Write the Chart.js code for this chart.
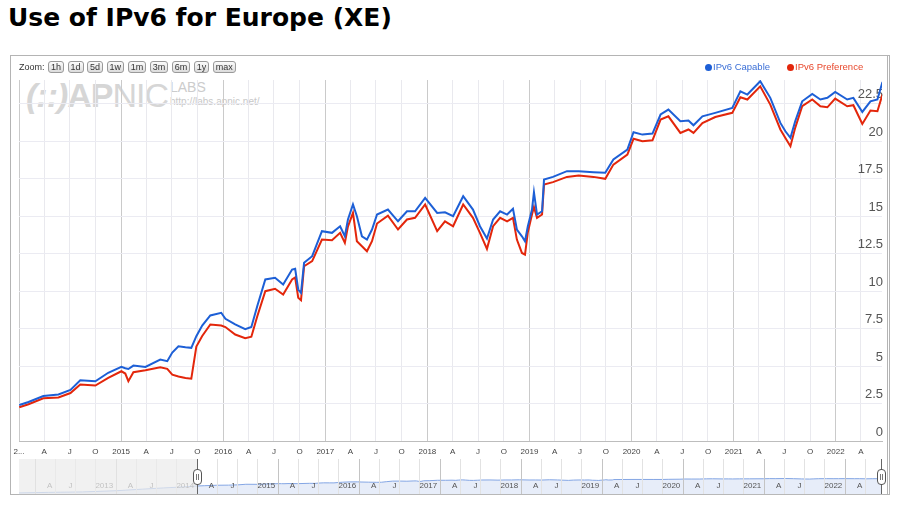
<!DOCTYPE html>
<html>
<head>
<meta charset="utf-8">
<title>Use of IPv6 for Europe (XE)</title>
<script src="https://cdn.jsdelivr.net/npm/chart.js@4.4.1/dist/chart.umd.min.js"></script>
<style>
    html, body { margin: 0; padding: 0; background: #fff; width: 900px; height: 505px; overflow: hidden; }
    body { position: relative; font-family: "Liberation Sans", Arial, sans-serif; }
    #title { position: absolute; left: 8px; top: 3px; margin: 0; font: bold 25px "DejaVu Sans", sans-serif; color: #000; white-space: nowrap; }
    #frame { position: absolute; left: 10px; top: 55px; width: 876px; height: 438px; border: 1px solid #b4b4b4; border-right: 3px double #b4b4b4; }
    #watermark { position: absolute; left: 26px; top: 76px; color: #d6d6d6; white-space: nowrap; }
    #watermark .logo { font: 34px "Liberation Sans", Arial, sans-serif; letter-spacing: -1px; }
    #watermark .logo i { font-style: italic; font-weight: bold; }
    #watermark .labs { position: absolute; left: 144px; top: 3px; font: 14px "Liberation Sans", Arial, sans-serif; color: #cccccc; }
    #watermark .url { position: absolute; left: 144px; top: 20px; font: 10px "Liberation Sans", Arial, sans-serif; color: #c8c8c8; }
    canvas { position: absolute; left: 0; top: 0; }
    #zoombar { position: absolute; left: 19px; top: 61px; font: 9px "Liberation Sans", Arial, sans-serif; color: #333; white-space: nowrap; word-spacing: 1px; }
    #zoombar span.b { display: inline-block; border: 1px solid #9a9a9a; border-radius: 3px; padding: 0 2px; line-height: 10px; background: linear-gradient(#fbfbfb, #dcdcdc); color: #333; word-spacing: 0; }
    #legend { position: absolute; left: 705px; top: 61px; font: 9.5px "Liberation Sans", Arial, sans-serif; white-space: nowrap; }
    #legend span.dot { display: inline-block; width: 7px; height: 7px; border-radius: 50%; vertical-align: -1px; margin-right: 1px; }
    #legend span.gap { display: inline-block; width: 17px; }
    .handle-line { position: absolute; top: 459px; width: 1px; height: 35px; background: #666; }
    .handle { position: absolute; top: 469px; width: 7px; height: 14px; border: 1px solid #555; border-radius: 4px; background: #fff; }
    .handle:after { content: ""; position: absolute; left: 2px; top: 4px; width: 1px; height: 6px; border-left: 1px solid #777; border-right: 1px solid #777; }
</style>
</head>
<body>
<h1 id="title">Use of IPv6 for Europe (XE)</h1>
<div id="frame"></div>
<div id="watermark">
    <span class="logo"><i>(::)</i><b>AP</b>NIC</span>
    <span class="labs">LABS</span>
    <span class="url">http://labs.apnic.net/</span>
</div>
<canvas id="mainChart" width="900" height="460"></canvas>
<canvas id="navChart" width="900" height="505"></canvas>
<div id="zoombar">Zoom: <span class="b">1h</span> <span class="b">1d</span> <span class="b">5d</span> <span class="b">1w</span> <span class="b">1m</span> <span class="b">3m</span> <span class="b">6m</span> <span class="b">1y</span> <span class="b">max</span></div>
<div id="legend"><span class="dot" style="background:#1d5fd6"></span><span style="color:#3b6fd6">IPv6 Capable</span><span class="gap"></span><span class="dot" style="background:#e3260b"></span><span style="color:#e8482c">IPv6 Preference</span></div>
<div class="handle-line" style="left:197px"></div>
<div class="handle" style="left:193px"></div>
<div class="handle-line" style="left:881px"></div>
<div class="handle" style="left:877px"></div>

<script>
(function () {
    // sample dates, with % of users for each series
    var dates = [
        '2014-01-02', '2014-02-04', '2014-03-29', '2014-05-22', '2014-07-04', '2014-08-08', '2014-10-01', '2014-11-16',
        '2015-01-02', '2015-01-16', '2015-01-27', '2015-02-14', '2015-03-29', '2015-05-21', '2015-06-15', '2015-07-03',
        '2015-07-25', '2015-08-19', '2015-09-09', '2015-09-27', '2015-10-18', '2015-11-16', '2015-12-25',
        '2016-01-09', '2016-02-13', '2016-03-20', '2016-04-11', '2016-05-02', '2016-05-31', '2016-07-05', '2016-08-03',
        '2016-09-04', '2016-09-15', '2016-09-26', '2016-10-06', '2016-10-17', '2016-11-15', '2016-12-20',
        '2017-01-25', '2017-02-23', '2017-03-12', '2017-03-23', '2017-04-10', '2017-04-24', '2017-05-12', '2017-05-30',
        '2017-06-17', '2017-07-05', '2017-08-13', '2017-09-18', '2017-10-20', '2017-11-18', '2017-12-24',
        '2018-02-05', '2018-03-05', '2018-04-03', '2018-05-09', '2018-06-13', '2018-07-08', '2018-08-02', '2018-08-24',
        '2018-09-18', '2018-10-13', '2018-11-03', '2018-11-17', '2018-12-05', '2018-12-16', '2018-12-26',
        '2019-01-10', '2019-01-17', '2019-01-28', '2019-02-15', '2019-02-22', '2019-03-26', '2019-05-15', '2019-06-26',
        '2019-08-18', '2019-09-29', '2019-10-28', '2019-12-17',
        '2020-01-08', '2020-02-09', '2020-03-16', '2020-04-14', '2020-05-12', '2020-06-24', '2020-07-23', '2020-08-10',
        '2020-09-11', '2020-10-27', '2020-12-27',
        '2021-01-25', '2021-02-19', '2021-04-06', '2021-05-12', '2021-06-17', '2021-07-05', '2021-07-23', '2021-08-09',
        '2021-09-03', '2021-10-09', '2021-11-07', '2021-12-02', '2021-12-30',
        '2022-02-11', '2022-03-05', '2022-04-06', '2022-05-05', '2022-05-30', '2022-06-17'
    ];
    var capable = [
        2.4, 2.6, 3.0, 3.1, 3.4, 4.05, 3.98, 4.55,
        4.94, 4.85, 4.8, 5.03, 4.94, 5.43, 5.32, 5.9,
        6.32, 6.25, 6.21, 6.99, 7.7, 8.37, 8.55,
        8.15, 7.77, 7.45, 7.6, 8.99, 10.77, 10.88, 10.43,
        11.43, 11.48, 10.1, 9.88, 11.88, 12.32, 13.99,
        13.88, 14.32, 13.65, 14.77, 15.77, 14.99, 13.65, 13.43,
        14.1, 15.1, 15.43, 14.65, 15.32, 15.32, 16.21,
        15.21, 15.25, 14.99, 16.32, 15.43, 14.32, 13.5, 14.77,
        15.32, 15.1, 15.48, 14.1, 13.65, 13.32, 14.3,
        15.43, 16.59, 15.1, 15.32, 17.43, 17.61, 17.99, 17.99,
        17.92, 17.88, 18.77, 19.43,
        20.59, 20.43, 20.5, 21.77, 22.1, 21.32, 21.37, 21.05,
        21.65, 21.88, 22.21,
        23.32, 23.1, 23.99, 22.88, 21.21, 20.65, 20.21, 21.32,
        22.65, 23.14, 22.77, 22.88, 23.28,
        22.77, 22.88, 21.94, 22.65, 22.77, 23.94
    ];
    var preference = [
        2.25, 2.45, 2.85, 2.9, 3.2, 3.77, 3.7, 4.21,
        4.65, 4.5, 3.99, 4.59, 4.72, 4.92, 4.81, 4.42,
        4.3, 4.2, 4.15, 6.3, 7.0, 7.77, 7.7,
        7.6, 7.1, 6.85, 6.95, 8.3, 9.99, 10.15, 9.77,
        10.77, 10.9, 9.55, 9.39, 11.65, 11.99, 13.43,
        13.39, 13.88, 13.21, 14.3, 15.21, 13.32, 12.99, 12.65,
        13.32, 14.5, 15.03, 14.1, 14.77, 14.88, 15.77,
        13.99, 14.65, 14.32, 15.77, 14.88, 13.88, 12.81, 14.32,
        14.88, 14.65, 14.88, 13.43, 12.54, 12.43, 13.9,
        15.1, 15.6, 14.88, 15.1, 17.1, 17.26, 17.61, 17.7,
        17.61, 17.48, 18.43, 19.1,
        20.15, 19.99, 20.05, 21.43, 21.65, 20.54, 20.77, 20.54,
        21.2, 21.6, 21.88,
        22.92, 22.77, 23.65, 22.43, 20.77, 20.21, 19.65, 20.88,
        22.32, 22.77, 22.32, 22.25, 22.83,
        22.32, 22.39, 21.14, 22.03, 21.99, 23.1
    ];

    // earlier part of the capable series, only visible in the range navigator
    var navEarlyDates = ['2011-10-20', '2012-03-01', '2012-08-01', '2013-01-01', '2013-05-01', '2013-08-01', '2013-11-01'];
    var navEarlyCapable = [0.28, 0.33, 0.38, 0.55, 0.9, 1.3, 1.8];

    var quarterLetters = ['', 'A', 'J', 'O'];   // Jan shows the year instead
    var yTickStep = 2.5;

    var BLUE = '#1d5fd6';
    var RED = '#e3260b';
    var FONT = 'Liberation Sans, Arial, sans-serif';

    function decYear(s) {
        var p = s.split('-').map(Number);
        var start = Date.UTC(p[0], 0, 1);
        var end = Date.UTC(p[0] + 1, 0, 1);
        return p[0] + (Date.UTC(p[0], p[1] - 1, p[2]) - start) / (end - start);
    }

    function points(ds, vs) {
        return ds.map(function (d, i) { return { x: decYear(d), y: vs[i] }; });
    }

    function quarterTicks(fromYear, toYear, min, max) {
        var out = [];
        for (var y = fromYear; y <= toYear; y++) {
            for (var q = 0; q < 4; q++) {
                var m = q * 3 + 1;
                var v = decYear(y + '-' + (m < 10 ? '0' + m : m) + '-01');
                if (v >= min - 1e-6 && v <= max + 1e-6) out.push({ value: v });
            }
        }
        return out;
    }

    function quarterOf(value) {
        var frac = value - Math.floor(value + 1e-6);
        if (frac < 0.1) return 0;
        if (frac < 0.4) return 1;
        if (frac < 0.6) return 2;
        return 3;
    }

    var X_MIN = decYear('2014-01-01');
    var X_MAX = 2022.453;
    var NAV_MIN = 2011.8;

    new Chart(document.getElementById('mainChart'), {
        type: 'line',
        data: {
            datasets: [
                { label: 'IPv6 Capable', data: points(dates, capable), borderColor: BLUE, borderWidth: 2, pointRadius: 0, tension: 0, fill: false },
                { label: 'IPv6 Preference', data: points(dates, preference), borderColor: RED, borderWidth: 2, pointRadius: 0, tension: 0, fill: false }
            ]
        },
        options: {
            responsive: false,
            animation: false,
            events: [],
            layout: { padding: { left: 19, right: 18, top: 80, bottom: 0 } },
            plugins: { legend: { display: false }, tooltip: { enabled: false } },
            scales: {
                x: {
                    type: 'linear',
                    min: X_MIN,
                    max: X_MAX,
                    afterBuildTicks: function (scale) { scale.ticks = quarterTicks(2014, 2022, X_MIN, X_MAX); },
                    afterFit: function (scale) { scale.height = 19; },
                    grid: {
                        drawTicks: false,
                        color: function (ctx) { return ctx.tick && quarterOf(ctx.tick.value) === 0 ? '#cacaca' : '#e9e9ee'; }
                    },
                    border: { color: '#bdbdbd' },
                    ticks: {
                        autoSkip: false,
                        maxRotation: 0,
                        padding: 6,
                        color: '#444',
                        font: { family: FONT, size: 8 },
                        callback: function (value, index) {
                            var q = quarterOf(value);
                            if (q === 0) return index === 0 ? '2...' : String(Math.round(value));
                            return quarterLetters[q];
                        }
                    }
                },
                y: {
                    position: 'right',
                    min: 0,
                    max: 24.07,
                    afterFit: function (scale) { scale.width = 0; },
                    grid: { drawTicks: false, color: '#ebebf2' },
                    border: { display: false },
                    ticks: {
                        stepSize: yTickStep,
                        includeBounds: false,
                        mirror: true,
                        padding: 1,
                        labelOffset: -9,
                        color: '#555',
                        font: { family: FONT, size: 13 }
                    }
                }
            }
        }
    });

    // grey veil over the part of the navigator outside the selected range
    var veil = {
        id: 'veil',
        afterDraw: function (chart) {
            var a = chart.chartArea;
            var x = chart.scales.x.getPixelForValue(X_MIN);
            var ctx = chart.ctx;
            ctx.save();
            ctx.fillStyle = 'rgba(236,236,236,0.72)';
            ctx.fillRect(a.left, a.top, x - a.left, a.bottom - a.top);
            ctx.restore();
        }
    };

    new Chart(document.getElementById('navChart'), {
        type: 'line',
        data: {
            datasets: [{
                data: points(navEarlyDates, navEarlyCapable).concat(points(dates, capable)),
                borderColor: '#84a6e4',
                borderWidth: 1,
                backgroundColor: '#e7edf9',
                fill: 'start',
                pointRadius: 0,
                tension: 0
            }]
        },
        options: {
            responsive: false,
            animation: false,
            events: [],
            layout: { padding: { left: 19, right: 18, top: 459, bottom: 11 } },
            plugins: { legend: { display: false }, tooltip: { enabled: false } },
            scales: {
                x: {
                    type: 'linear',
                    min: NAV_MIN,
                    max: X_MAX,
                    afterBuildTicks: function (scale) { scale.ticks = quarterTicks(2011, 2022, NAV_MIN, X_MAX); },
                    afterFit: function (scale) { scale.height = 0; },
                    grid: {
                        z: 1,
                        drawTicks: false,
                        color: function (ctx) { return ctx.tick && quarterOf(ctx.tick.value) === 0 ? '#c4c4c4' : '#e2e2e2'; }
                    },
                    border: { z: 1, color: '#b8b8b8' },
                    ticks: {
                        z: 1,
                        autoSkip: false,
                        maxRotation: 0,
                        mirror: true,
                        align: 'end',
                        labelOffset: -3,
                        padding: 3,
                        color: '#555',
                        font: { family: FONT, size: 8 },
                        callback: function (value) {
                            var q = quarterOf(value);
                            if (q === 3) return '';
                            if (q === 0) return value < 2012.5 ? '' : String(Math.round(value));
                            return quarterLetters[q];
                        }
                    }
                },
                y: {
                    type: 'logarithmic',
                    display: false,
                    min: 0.2,
                    max: 10000
                }
            }
        },
        plugins: [veil]
    });
})();
</script>
</body>
</html>
